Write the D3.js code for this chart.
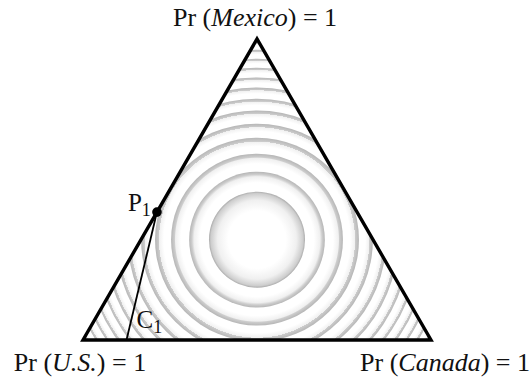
<!DOCTYPE html>
<html>
<head>
<meta charset="utf-8">
<script src="https://cdn.jsdelivr.net/npm/d3@7"></script>
<style>
  html, body { margin: 0; padding: 0; background: #fff; }
  svg { display: block; }
  text { font-family: "Liberation Serif", "Times New Roman", serif; fill: #111; }
</style>
</head>
<body>
<svg id="chart" width="532" height="381"></svg>
<script>
// Outcomes at the simplex corners (barycentric order: U.S., Canada, Mexico)
const outcomes = ["U.S.", "Canada", "Mexico"];

// Contour rings around the uniform point, as distances from the centroid
// in simplex units (triangle side = 1)
const ringRadii = [0.138, 0.195, 0.247, 0.293, 0.333, 0.371, 0.405, 0.437,
                   0.466, 0.494, 0.520, 0.546, 0.569, 0.592];

// Belief point on the U.S.–Mexico edge and its chord end on the base
const p1 = [0.575, 0.000, 0.425];
const c1 = [0.875, 0.125, 0.000];

const width = 532, height = 381;
const H = Math.sqrt(3) / 2;

const x = d3.scaleLinear().domain([0, 1]).range([83, 431]);
const y = d3.scaleLinear().domain([0, H]).range([340, 39]);
const rScale = d3.scaleLinear().domain([0, 1]).range([0, 348]);

// barycentric (US, Canada, Mexico) -> simplex plane
function toPlane(p) {
  return [p[1] + 0.5 * p[2], p[2] * H];
}
function toPx(p) {
  const q = toPlane(p);
  return [x(q[0]), y(q[1])];
}

const corners = [[1, 0, 0], [0, 1, 0], [0, 0, 1]].map(toPx);
const centre = toPx([1 / 3, 1 / 3, 1 / 3]);

const svg = d3.select("#chart");
const defs = svg.append("defs");

defs.append("clipPath").attr("id", "simplex-clip")
  .append("path")
  .attr("d", d3.line()(corners) + "Z");

// one radial gradient per ring: white inside, darkening toward a soft outer rim
ringRadii.forEach((r, i) => {
  const r1 = rScale(r);
  const r0 = i > 0 ? rScale(ringRadii[i - 1]) : 0;
  const f = i === 0 ? 0.6 : 0.45;
  const fadeStart = (r0 + f * (r1 - r0)) / r1;
  const mid = fadeStart + (1 - fadeStart) * 0.55;
  const rim = i === 0 ? "#aaaaaa" : "#b6b6b6";
  const g = defs.append("radialGradient")
    .attr("id", "ring-" + i)
    .attr("gradientUnits", "userSpaceOnUse")
    .attr("cx", centre[0]).attr("cy", centre[1])
    .attr("fx", centre[0]).attr("fy", centre[1])
    .attr("r", r1);
  g.append("stop").attr("offset", 0).attr("stop-color", "#ffffff");
  g.append("stop").attr("offset", fadeStart).attr("stop-color", "#ffffff");
  g.append("stop").attr("offset", mid).attr("stop-color", "#f0f0f0");
  g.append("stop").attr("offset", 0.96).attr("stop-color", "#cdcdcd");
  g.append("stop").attr("offset", 1).attr("stop-color", rim);
});

const rings = svg.append("g").attr("clip-path", "url(#simplex-clip)");
rings.selectAll("circle")
  .data(ringRadii.map((r, i) => ({ r, i })).reverse())
  .join("circle")
  .attr("cx", centre[0])
  .attr("cy", centre[1])
  .attr("r", d => rScale(d.r))
  .attr("fill", d => "url(#ring-" + d.i + ")");

// chord from P1 to C1
const P1 = toPx(p1), C1 = toPx(c1);
svg.append("line")
  .attr("x1", P1[0]).attr("y1", P1[1])
  .attr("x2", C1[0]).attr("y2", C1[1])
  .attr("stroke", "#000").attr("stroke-width", 1.8);

// simplex outline
svg.append("path")
  .attr("d", d3.line()(corners) + "Z")
  .attr("fill", "none")
  .attr("stroke", "#000")
  .attr("stroke-width", 3.4)
  .attr("stroke-linejoin", "miter");

svg.append("circle")
  .attr("cx", P1[0]).attr("cy", P1[1]).attr("r", 4.8)
  .attr("fill", "#000");

// corner labels
const fs = 26;
function cornerLabel(name, px, py, anchor) {
  const t = svg.append("text")
    .attr("x", px).attr("y", py)
    .attr("text-anchor", anchor)
    .style("font-size", fs + "px");
  t.append("tspan").text("Pr (");
  t.append("tspan").style("font-style", "italic").text(name);
  t.append("tspan").text(") = 1");
}
cornerLabel(outcomes[2], corners[2][0] - 2, corners[2][1] - 13, "middle");
cornerLabel(outcomes[0], corners[0][0] - 3, corners[0][1] + 31, "middle");
cornerLabel(outcomes[1], 530, corners[1][1] + 31, "end");

// point labels with subscripts
function subLabel(main, sub, px, py) {
  const t = svg.append("text")
    .attr("x", px).attr("y", py)
    .style("font-size", "25px");
  t.append("tspan").text(main);
  t.append("tspan").attr("dy", 5).style("font-size", "18px").text(sub);
}
subLabel("P", "1", P1[0] - 29, P1[1] - 1);
subLabel("C", "1", C1[0] + 10, C1[1] - 12);
</script>
</body>
</html>
